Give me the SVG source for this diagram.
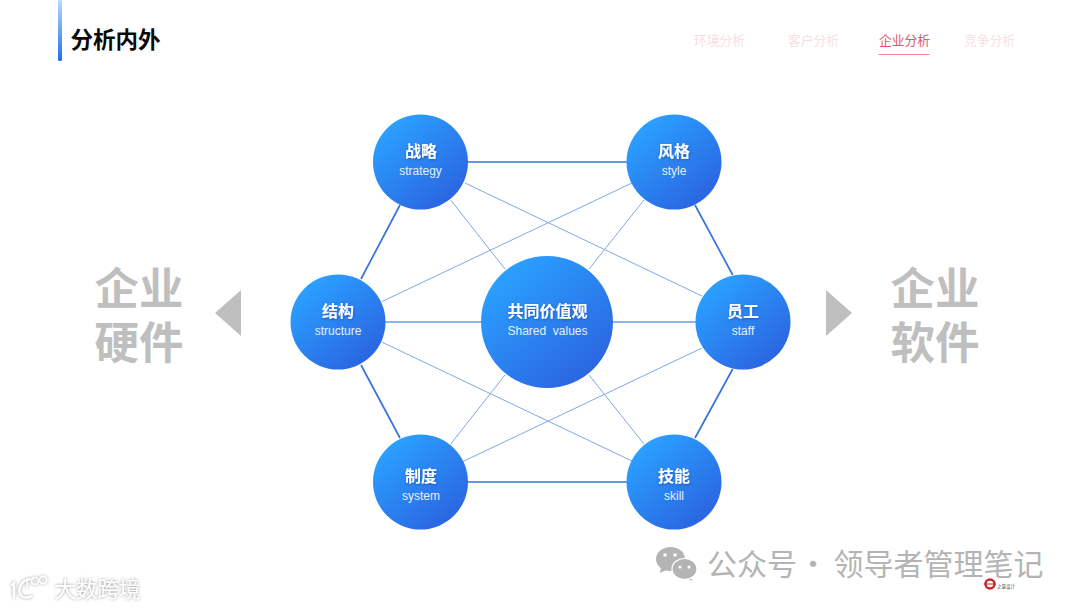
<svg xmlns="http://www.w3.org/2000/svg" width="1080" height="608" viewBox="0 0 1080 608">
<style>
text{font-family:"Noto Sans CJK SC","Liberation Sans",sans-serif;text-anchor:middle}
.en{font-family:"Liberation Sans","Noto Sans CJK SC",sans-serif;font-size:12px;fill:#e4f0ff}
.zh{font-size:16px;font-weight:700;fill:#fff;filter:url(#ts)}
.nav{font-size:12.800px;fill:#fbdde2}
.big{font-size:44.500px;font-weight:700;fill:#bfbfbf}
.thick{stroke:#3474dc;stroke-width:1.700;fill:none}
.thin{stroke:#7fa8e8;stroke-width:1;fill:none}
.mid{stroke:#6f9ce4;stroke-width:1.300;fill:none}
.node{fill:url(#g)}
.tri{fill:#bfbfbf}
.wm{font-size:30px;fill:#b4b4b4}
</style>
<defs>
<linearGradient id="g" x1="0.2" y1="0.12" x2="0.85" y2="0.9"><stop offset="0" stop-color="#2a9fff"/><stop offset="1" stop-color="#2b64e0"/></linearGradient>
<linearGradient id="bar" x1="0" y1="0" x2="0" y2="1"><stop offset="0" stop-color="#bcd6ff"/><stop offset="1" stop-color="#1f6ff0"/></linearGradient>
<filter id="ts" x="-20%" y="-20%" width="140%" height="140%"><feDropShadow dx="0.5" dy="1" stdDeviation="0.8" flood-color="#123a8c" flood-opacity="0.55"/></filter>
<filter id="glow" x="-10%" y="-30%" width="120%" height="160%"><feDropShadow dx="0" dy="0" stdDeviation="1.500" flood-color="#777" flood-opacity="0.8"/></filter>
</defs>
<rect width="1080" height="608" fill="#fff"/>
<g id="header">
<rect x="58" y="0" width="4" height="61" rx="1.500" fill="url(#bar)"/>
<text x="115.500" y="48" style="font-size:22.500px;font-weight:700;fill:#0a0a0a">分析内外</text>
<text class="nav" x="719.500" y="45">环境分析</text>
<text class="nav" x="813.500" y="45">客户分析</text>
<text class="nav" x="904.500" y="45" style="fill:#e0566b">企业分析</text>
<text class="nav" x="989.500" y="45">竞争分析</text>
<rect x="878.500" y="54" width="51" height="1" fill="#e98a98"/>
</g>
<g id="connectors">
<path class="thick" d="M465 162H630M465 482H630M400 205L361 279M361 365L400 438M695 205L732.700 275M732.700 369L695 438"/>
<path class="mid" d="M385 322H482M612 322H697"/>
<path class="thin" d="M465 183L702 296M450.700 200L505 269M644 200L589 269M632 183L381.700 301.700M381.700 342L632 461M702 348L462 462M505 375L450.700 444M589 375L644 444"/>
</g>
<g id="n-strategy"><circle class="node" cx="420.500" cy="162" r="47.500"/><text class="zh" x="421" y="157">战略</text><text class="en" x="420.500" y="175">strategy</text></g>
<g id="n-style"><circle class="node" cx="674" cy="162" r="47.500"/><text class="zh" x="674" y="157">风格</text><text class="en" x="674" y="175">style</text></g>
<g id="n-structure"><circle class="node" cx="338" cy="322" r="47.500"/><text class="zh" x="338" y="317">结构</text><text class="en" x="338" y="335">structure</text></g>
<g id="n-shared"><circle class="node" cx="547" cy="322" r="66"/><text class="zh" x="547.500" y="317">共同价值观</text><text class="en" x="547.500" y="335" xml:space="preserve">Shared  values</text></g>
<g id="n-staff"><circle class="node" cx="743" cy="322" r="47.500"/><text class="zh" x="743" y="317">员工</text><text class="en" x="743" y="335">staff</text></g>
<g id="n-system"><circle class="node" cx="420.500" cy="482" r="47.500"/><text class="zh" x="421" y="482">制度</text><text class="en" x="421" y="500">system</text></g>
<g id="n-skill"><circle class="node" cx="674" cy="482" r="47.500"/><text class="zh" x="674" y="482">技能</text><text class="en" x="674" y="500">skill</text></g>
<g id="hardware"><text class="big"><tspan x="139" y="305">企业</tspan><tspan x="139" y="359">硬件</tspan></text><polygon class="tri" points="241,290 241,336 215,313"/></g>
<g id="software"><text class="big"><tspan x="935" y="305">企业</tspan><tspan x="935" y="359">软件</tspan></text><polygon class="tri" points="826,290 826,336 852,313"/></g>
<g id="watermarks">
<text x="97.500" y="597" style="font-size:21.500px;fill:#fff;filter:url(#glow)">大数跨境</text>
<g fill="none" stroke="#fff" stroke-width="2.200" filter="url(#glow)"><path d="M11 586L14 583V598"/><path d="M31 579C20 580 18 590 20 594C23 599 29 598 32 596"/><path d="M27 578V588" stroke-width="1.500"/><circle cx="35" cy="581" r="3.500" stroke-width="1.500"/><circle cx="43" cy="580" r="3.500" stroke-width="1.500"/></g>
<g fill="#b4b4b4"><ellipse cx="670.500" cy="559" rx="14.500" ry="12"/><path d="M661 567L660 573L668 569Z"/><path d="M689 576L693 581L685 578Z"/><ellipse cx="684.500" cy="569" rx="12.500" ry="10.500" stroke="#fff" stroke-width="1.200"/></g>
<g fill="#fff"><circle cx="665" cy="555" r="1.800"/><circle cx="675" cy="555" r="1.800"/><circle cx="680" cy="567" r="1.500"/><circle cx="689" cy="567" r="1.500"/></g>
<text class="wm" x="752" y="575">公众号</text>
<text class="wm" x="813" y="575">·</text>
<text class="wm" x="938.500" y="575">领导者管理笔记</text>
<circle cx="990" cy="584" r="4.500" fill="none" stroke="#c8282c" stroke-width="2.500"/>
<path d="M984 584H996" stroke="#c8282c" stroke-width="1"/>
<text x="1006" y="588" style="font-size:4.500px;fill:#555">之量设计</text>
</g>
</svg>
